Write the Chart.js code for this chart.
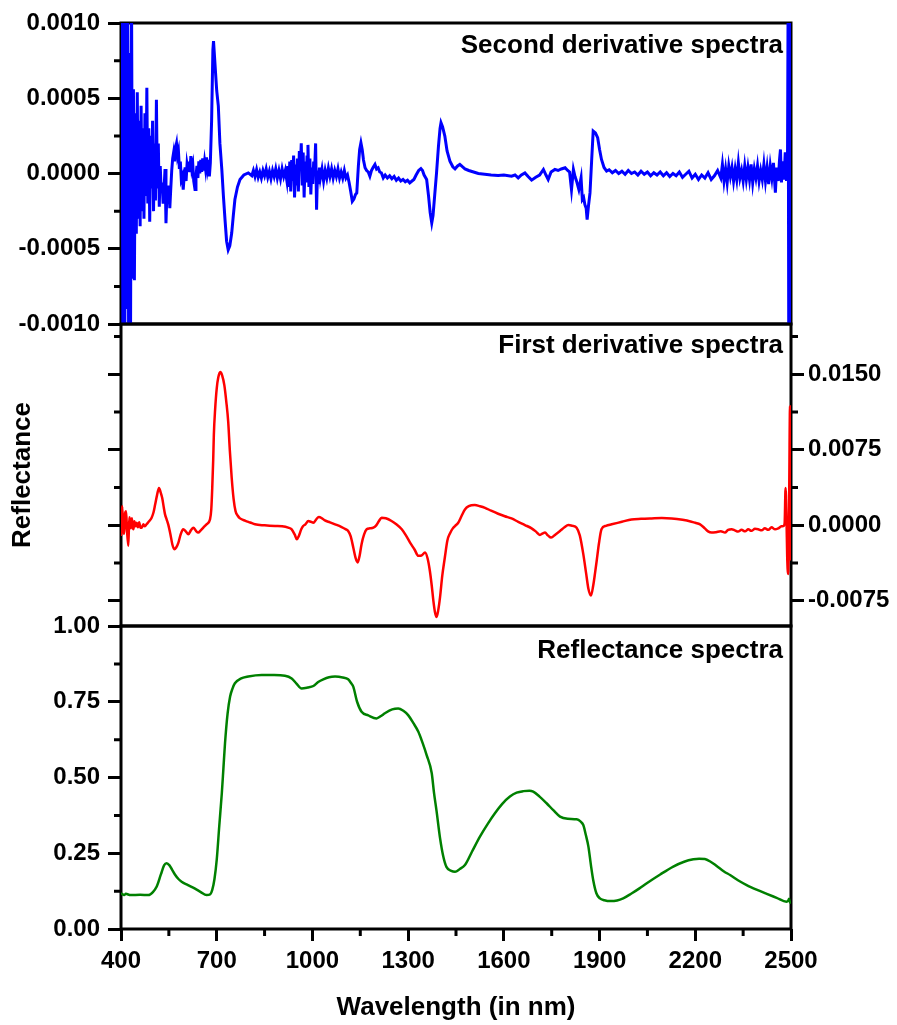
<!DOCTYPE html>
<html>
<head>
<meta charset="utf-8">
<title>Reflectance and derivative spectra</title>
<script src="https://cdn.jsdelivr.net/npm/chart.js@4.4.1/dist/chart.umd.min.js"></script>
<style>
  body { margin: 0; background: #fff; }
  #wrap { position: relative; width: 897px; height: 1025px; }
  #wrap canvas { position: absolute; left: 0; top: 0; }
</style>
</head>
<body>
<div id="wrap">
  <canvas id="secondChart" width="897" height="1025"></canvas>
  <canvas id="firstChart" width="897" height="1025"></canvas>
  <canvas id="reflChart" width="897" height="1025"></canvas>
</div>
<script>
// wavelength (nm) / value pairs

// second derivative (top, blue)
const secondWl = [
  400, 403, 406, 409, 412, 415, 418, 421, 424, 427, 430, 433, 436,
  439, 442, 445, 448, 451, 454, 457, 460, 463, 466, 469, 472, 475,
  478, 481, 484, 487, 490, 493, 496, 499, 502, 505, 508, 511, 514,
  517, 520, 523, 526, 529, 532, 535, 538, 541, 544, 547, 550, 553,
  556, 559, 562, 565, 568, 571, 574, 577, 580, 583, 586, 589, 592,
  595, 598, 601, 604, 607, 610, 613, 616, 619, 622, 625, 628, 632,
  635, 638, 641, 644, 647, 650, 653, 656, 659, 662, 665, 668, 671,
  674, 677, 680, 684, 688, 690, 693, 696, 700, 705, 710, 716, 721,
  726, 731, 736, 741, 747, 752, 757, 765, 773, 785, 799, 810, 815,
  820, 825, 830, 835, 840, 845, 850, 855, 860, 865, 870, 875, 880,
  885, 890, 895, 900, 905, 910, 915, 920, 923, 926, 929, 932, 935,
  938, 941, 944, 947, 950, 953, 956, 959, 962, 965, 968, 971, 974,
  977, 980, 983, 986, 989, 992, 995, 998, 1001, 1004, 1007, 1010, 1013,
  1016, 1019, 1022, 1025, 1030, 1035, 1040, 1045, 1050, 1055, 1060, 1065, 1070,
  1075, 1080, 1085, 1090, 1095, 1100, 1105, 1110, 1115, 1120, 1125, 1130, 1135,
  1139, 1144, 1148, 1152, 1156, 1160, 1165, 1170, 1175, 1180, 1185, 1190, 1196,
  1201, 1206, 1211, 1216, 1222, 1228, 1235, 1242, 1249, 1256, 1263, 1270, 1277,
  1284, 1291, 1298, 1305, 1312, 1318, 1325, 1333, 1340, 1345, 1350, 1358, 1364,
  1369, 1374, 1378, 1383, 1389, 1395, 1400, 1403, 1408, 1415, 1422, 1431, 1440,
  1447, 1455, 1462, 1470, 1478, 1490, 1505, 1520, 1540, 1560, 1582, 1600, 1624,
  1635, 1645, 1655, 1666, 1676, 1687, 1700, 1712, 1724, 1732, 1739, 1748, 1760,
  1770, 1780, 1792, 1800, 1806, 1812, 1818, 1823, 1828, 1835, 1842, 1846, 1850,
  1854, 1858, 1861, 1865, 1870, 1875, 1880, 1887, 1894, 1900, 1906, 1914, 1922,
  1930, 1940, 1950, 1960, 1970, 1980, 1990, 2000, 2010, 2020, 2030, 2040, 2050,
  2060, 2070, 2080, 2090, 2100, 2110, 2120, 2130, 2140, 2150, 2160, 2170, 2180,
  2190, 2200, 2210, 2220, 2230, 2240, 2250, 2260, 2270, 2280, 2285, 2290, 2295,
  2300, 2305, 2310, 2315, 2320, 2325, 2330, 2335, 2340, 2345, 2350, 2355, 2360,
  2365, 2370, 2375, 2380, 2385, 2390, 2395, 2400, 2405, 2410, 2415, 2420, 2425,
  2430, 2435, 2440, 2445, 2451, 2455, 2460, 2464, 2467, 2470, 2474, 2478, 2482,
  2486, 2489, 2491, 2493, 2495, 2497, 2499, 2500
];
const secondVals = [
  3e-4, 12e-4, -12e-4, 10e-4, -11e-4, 12e-4, -9e-4, 11e-4, -12e-4, 8e-4, -10e-4, 12e-4, -7e-4,
  5.6e-4, -7.1e-4, 4e-4, -4e-4, 5.4e-4, -3e-4, 3.5e-4, -3.5e-4, 4.5e-4, -2.5e-4, 3e-4, -3e-4, 4e-4,
  -1.5e-4, 5.7e-4, -2e-4, 3e-4, -3.2e-4, 2.5e-4, -1e-4, 3.5e-4, -2.5e-4, 2e-4, -1.8e-4, 4.9e-4, -1e-4,
  2e-4, -2.2e-4, 0.5e-4, -1.2e-4, -0.6e-4, -2e-4, -1e-4, 0.3e-4, -3.3e-4, -1.2e-4, -1.8e-4, -0.8e-4, -2.3e-4,
  -1e-4, 0.2e-4, 1e-4, 1.4e-4, 0.8e-4, 1.7e-4, 2e-4, 1.2e-4, 1.5e-4, 0.3e-4, 0.8e-4, -0.4e-4, -0.2e-4,
  -1.07e-4, -0.2e-4, 0.4e-4, -0.5e-4, 0.6e-4, 0.2e-4, 0.8e-4, 0.1e-4, 1.15e-4, 0.3e-4, 0.6e-4, -0.5e-4, -1.07e-4,
  -0.2e-4, 0.5e-4, -0.3e-4, 0.8e-4, 0, 0.9e-4, 0.1e-4, 1e-4, 0.2e-4, 0.8e-4, 0.3e-4, 1.07e-4, 0.4e-4,
  0.9e-4, -0.2e-4, 0.7e-4, 3.5e-4, 8.2e-4, 8.8e-4, 7.8e-4, 6.8e-4, 5.5e-4, 4.5e-4, 2e-4, 0.27e-4, -1.5e-4,
  -3.07e-4, -4.5e-4, -5.07e-4, -4.8e-4, -3.96e-4, -2.8e-4, -1.73e-4, -0.9e-4, -0.4e-4, -0.1e-4, 0.04e-4, -0.15e-4, 0.2e-4,
  -0.2e-4, 0.25e-4, -0.25e-4, 0.1e-4, -0.3e-4, 0.2e-4, -0.15e-4, 0.3e-4, -0.25e-4, 0.15e-4, -0.35e-4, 0.2e-4, -0.2e-4,
  0.3e-4, -0.3e-4, 0.2e-4, -0.35e-4, 0.3e-4, -0.2e-4, 0.2e-4, -0.5e-4, 0.5e-4, -0.9e-4, 0.8e-4, -1.2e-4, 0.9e-4,
  -0.5e-4, 1.2e-4, -1.6e-4, 0.6e-4, -0.8e-4, 1e-4, -1.2e-4, 1.5e-4, 0.3e-4, 2e-4, -0.8e-4, 1.4e-4, -1.6e-4,
  0.8e-4, -0.6e-4, 1.1e-4, 1.9e-4, -0.9e-4, 1e-4, -1.4e-4, 0.4e-4, -0.7e-4, 0.8e-4, 0.3e-4, 2e-4, -2.4e-4,
  0.2e-4, -0.7e-4, 0.4e-4, -0.3e-4, 0.3e-4, -0.5e-4, 0.2e-4, -0.3e-4, 0.35e-4, -0.2e-4, 0.3e-4, -0.3e-4, 0.2e-4,
  -0.2e-4, 0.3e-4, -0.3e-4, 0.1e-4, -0.3e-4, 0.2e-4, -0.3e-4, -0.1e-4, -0.6e-4, -1.2e-4, -1.85e-4, -1.7e-4, -1.4e-4,
  -1.29e-4, 0.5e-4, 1.6e-4, 2.04e-4, 1.6e-4, 0.9e-4, 0.38e-4, 0.2e-4, 0.1e-4, -0.18e-4, 0.2e-4, 0.4e-4, 0.6e-4,
  0.3e-4, 0.38e-4, 0.1e-4, 0.05e-4, -0.29e-4, -0.1e-4, -0.3e-4, -0.15e-4, -0.35e-4, -0.2e-4, -0.45e-4, -0.3e-4, -0.5e-4,
  -0.4e-4, -0.55e-4, -0.45e-4, -0.62e-4, -0.5e-4, -0.4e-4, -0.1e-4, 0.2e-4, 0.33e-4, 0.2e-4, -0.1e-4, -0.4e-4, -1.5e-4,
  -2.6e-4, -3.29e-4, -2.8e-4, -1.5e-4, 0.04e-4, 1.8e-4, 3e-4, 3.38e-4, 3.1e-4, 2.49e-4, 1.5e-4, 0.82e-4, 0.45e-4,
  0.31e-4, 0.5e-4, 0.6e-4, 0.45e-4, 0.31e-4, 0.2e-4, 0.1e-4, 0, -0.05e-4, -0.1e-4, -0.13e-4, -0.1e-4, -0.18e-4,
  -0.1e-4, -0.29e-4, -0.1e-4, 0.04e-4, -0.2e-4, -0.44e-4, -0.25e-4, -0.1e-4, 0.27e-4, -0.1e-4, -0.4e-4, 0.1e-4, 0.27e-4,
  0.2e-4, 0.3e-4, 0.38e-4, 0.2e-4, 0.1e-4, -1.07e-4, 0.27e-4, -0.2e-4, -0.51e-4, -1.07e-4, -0.29e-4, -1.73e-4, -1.6e-4,
  -2.07e-4, -2.3e-4, -3.07e-4, -2.2e-4, -1.29e-4, 0.8e-4, 2.82e-4, 2.7e-4, 2.38e-4, 1.6e-4, 0.93e-4, 0.4e-4, 0.16e-4,
  0.25e-4, 0.05e-4, 0.2e-4, 0, 0.15e-4, -0.05e-4, 0.2e-4, 0, 0.1e-4, -0.1e-4, 0.15e-4, -0.05e-4, 0.1e-4,
  -0.15e-4, 0.05e-4, -0.1e-4, 0.1e-4, -0.15e-4, 0.05e-4, -0.2e-4, 0, -0.15e-4, 0.1e-4, -0.25e-4, -0.05e-4, 0.15e-4,
  -0.3e-4, -0.05e-4, -0.4e-4, -0.1e-4, -0.3e-4, 0.05e-4, -0.4e-4, -0.15e-4, 0.2e-4, -0.3e-4, 0.6e-4, -0.5e-4, 0.3e-4,
  -0.6e-4, 0.5e-4, -0.2e-4, 0.4e-4, -0.5e-4, 0.3e-4, -0.4e-4, 0.7e-4, -0.3e-4, 0.2e-4, -0.5e-4, 0.5e-4, -0.4e-4,
  0.4e-4, -0.4e-4, 0.6e-4, -0.6e-4, 0.3e-4, -0.3e-4, 0.5e-4, -0.5e-4, 0.2e-4, -0.4e-4, 0.6e-4, -0.5e-4, 0.4e-4,
  -0.7e-4, 0.5e-4, -0.3e-4, 0.7e-4, -1.27e-4, 0.4e-4, -0.5e-4, 0.9e-4, 1.6e-4, -0.6e-4, 0.8e-4, -0.4e-4, 1.4e-4,
  -0.5e-4, 0.5e-4, 12e-4, -12e-4, 12e-4, -12e-4, 12e-4, -12e-4
];

// first derivative (middle, red)
const firstWl = [
  400, 404, 407, 410, 413, 416, 419, 423, 426, 428, 431, 434,
  437, 439, 442, 446, 449, 453, 457, 461, 465, 470, 475, 480,
  488, 496, 502, 507, 513, 519, 524, 529, 534, 538, 543, 548,
  555, 561, 567, 573, 580, 587, 595, 603, 611, 619, 627, 635,
  642, 650, 658, 668, 679, 683, 686, 689, 691, 695, 700, 705,
  711, 717, 724, 730, 736, 741, 747, 753, 759, 766, 773, 790,
  805, 820, 850, 883, 905, 924, 935, 945, 951, 958, 965, 971,
  978, 987, 995, 1003, 1012, 1020, 1030, 1039, 1055, 1071, 1090, 1105,
  1112, 1120, 1128, 1135, 1142, 1148, 1154, 1162, 1170, 1180, 1191, 1200,
  1208, 1217, 1230, 1248, 1265, 1280, 1293, 1306, 1320, 1332, 1342, 1353,
  1361, 1368, 1374, 1379, 1384, 1389, 1394, 1400, 1407, 1415, 1423, 1431,
  1440, 1447, 1457, 1467, 1478, 1490, 1509, 1525, 1541, 1560, 1582, 1603,
  1624, 1645, 1666, 1687, 1700, 1713, 1722, 1729, 1738, 1748, 1762, 1776,
  1790, 1802, 1815, 1828, 1838, 1849, 1858, 1865, 1873, 1880, 1886, 1891,
  1898, 1906, 1920, 1938, 1970, 2000, 2030, 2063, 2095, 2126, 2160, 2188,
  2200, 2215, 2230, 2240, 2251, 2265, 2280, 2293, 2303, 2314, 2324, 2334,
  2345, 2356, 2366, 2376, 2387, 2397, 2408, 2418, 2429, 2439, 2450, 2460,
  2470, 2476, 2480, 2483, 2486, 2488, 2491, 2494, 2497, 2500
];
const firstVals = [
  -0.00105, 0.0019, -0.0005, -0.00084, 0.0012, 0.00141, -0.0006, -0.00204, 0.0008, 0.00059, -0.0003, 0.0007,
  -0.0002, -0.00039, 0.0004, -0.0001, 0.00026, -0.0002, 0.0003, -0.00025, -0.00023, 0.0001, -0.0001, 0.0001,
  0.0004, 0.00076, 0.0013, 0.00207, 0.003, 0.00372, 0.0033, 0.00273, 0.0018, 0.00109, 0.0006, 0.0001,
  -0.0009, -0.0019, -0.00237, -0.0022, -0.00171, -0.0009, -0.00039, -0.0006, -0.00089, -0.0005, -0.00023, -0.00055,
  -0.00072, -0.0005, -0.00023, 0.0001, 0.00059, 0.0016, 0.00372, 0.0065, 0.00898, 0.0115, 0.01359, 0.0147,
  0.01523, 0.0149, 0.0139, 0.0123, 0.0103, 0.0075, 0.0047, 0.0026, 0.00141, 0.00095, 0.00069, 0.00045,
  0.00028, 0.0001, 0, -0.00007, -0.0001, -0.00023, -0.0004, -0.00095, -0.00138, -0.001, -0.0004, -0.00007,
  0.0001, 0.00043, 0.00035, 0.00026, 0.0006, 0.00082, 0.0007, 0.00049, 0.0003, 0.0001, -0.00015, -0.0004,
  -0.00056, -0.0011, -0.0022, -0.0032, -0.00368, -0.003, -0.00187, -0.0009, -0.00039, -0.0003, -0.00023, 0,
  0.0004, 0.00076, 0.0007, 0.00043, 0.00005, -0.00039, -0.001, -0.00171, -0.0024, -0.00303, -0.003, -0.0027,
  -0.0033, -0.00451, -0.006, -0.00747, -0.0086, -0.0091, -0.0085, -0.00714, -0.005, -0.0032, -0.0015, -0.0008,
  -0.0003, -0.00007, 0.00026, 0.0009, 0.00158, 0.0019, 0.00201, 0.0019, 0.00174, 0.00145, 0.00115, 0.0009,
  0.00069, 0.00035, 0.00003, -0.0003, -0.0006, -0.00095, -0.0008, -0.00072, -0.001, -0.00122, -0.0009, -0.00056,
  -0.0002, 0.00003, -0.00005, -0.00023, -0.001, -0.00286, -0.0048, -0.0063, -0.00697, -0.006, -0.0047, -0.00352,
  -0.0018, -0.00039, -0.00005, 0.0001, 0.00035, 0.00059, 0.00065, 0.00069, 0.00072, 0.00069, 0.00055, 0.00036,
  0.00025, 0.0001, -0.0003, -0.0006, -0.00072, -0.00068, -0.0006, -0.00072, -0.00045, -0.00039, -0.0005, -0.00062,
  -0.00045, -0.0006, -0.0004, -0.00055, -0.00035, -0.00039, -0.0005, -0.0003, -0.00045, -0.0002, -0.0004, -0.0003,
  -0.0001, -0.00007, 0.0002, 0.00372, 0.0005, -0.003, -0.00484, 0.002, 0.0118, -0.0035
];

// reflectance (bottom, green)
const reflWl = [
  400, 410, 415, 430, 460, 486, 500, 512, 525, 535,
  543, 552, 560, 569, 580, 590, 610, 632, 650, 668,
  680, 686, 693, 700, 708, 716, 721, 726, 734, 742,
  750, 757, 775, 799, 841, 880, 914, 935, 950, 966,
  985, 1003, 1018, 1034, 1052, 1071, 1095, 1112, 1122, 1128,
  1140, 1154, 1175, 1201, 1215, 1227, 1250, 1269, 1285, 1300,
  1316, 1332, 1345, 1358, 1374, 1381, 1389, 1400, 1410, 1420,
  1435, 1447, 1462, 1478, 1500, 1525, 1550, 1572, 1595, 1619,
  1640, 1661, 1680, 1692, 1712, 1734, 1755, 1776, 1800, 1828,
  1840, 1849, 1857, 1865, 1873, 1880, 1890, 1901, 1915, 1933,
  1955, 1974, 2000, 2025, 2048, 2090, 2131, 2165, 2194, 2212,
  2230, 2248, 2267, 2290, 2309, 2335, 2361, 2392, 2424, 2455,
  2486, 2491, 2494, 2497, 2500
];
const reflVals = [
  0.118, 0.112, 0.116, 0.112, 0.113, 0.112, 0.122, 0.140, 0.180, 0.210,
  0.217, 0.210, 0.196, 0.180, 0.165, 0.156, 0.145, 0.133, 0.122, 0.112,
  0.115, 0.129, 0.165, 0.228, 0.340, 0.448, 0.530, 0.613, 0.710, 0.767,
  0.795, 0.811, 0.826, 0.833, 0.838, 0.838, 0.836, 0.827, 0.810, 0.794,
  0.797, 0.802, 0.815, 0.824, 0.831, 0.833, 0.830, 0.824, 0.810, 0.800,
  0.750, 0.717, 0.705, 0.695, 0.703, 0.712, 0.725, 0.728, 0.720, 0.706,
  0.680, 0.651, 0.615, 0.574, 0.514, 0.450, 0.390, 0.300, 0.240, 0.205,
  0.192, 0.189, 0.198, 0.211, 0.255, 0.305, 0.348, 0.382, 0.413, 0.437,
  0.450, 0.455, 0.456, 0.453, 0.437, 0.415, 0.392, 0.371, 0.364, 0.362,
  0.355, 0.343, 0.310, 0.272, 0.210, 0.162, 0.118, 0.101, 0.095, 0.092,
  0.094, 0.101, 0.117, 0.134, 0.151, 0.180, 0.206, 0.222, 0.230, 0.232,
  0.231, 0.222, 0.208, 0.190, 0.178, 0.160, 0.145, 0.130, 0.116, 0.103,
  0.090, 0.093, 0.100, 0.087, 0.090
];

// axis ticks
const xTicks = [400, 700, 1000, 1300, 1600, 1900, 2200, 2500];
const xMinor = [550, 850, 1150, 1450, 1750, 2050, 2350];
const secondTicks = [-0.001, -0.0005, 0, 0.0005, 0.001];
const secondMinor = [-0.00075, -0.00025, 0.00025, 0.00075];
const firstTicks = [-0.0075, 0, 0.0075, 0.015];
const firstMinor = [-0.00375, 0.00375, 0.01125, 0.01875];
const reflTicks = [0, 0.25, 0.5, 0.75, 1];
const reflMinor = [0.125, 0.375, 0.625, 0.875];

const FONT = "'Liberation Sans', Arial, Helvetica, sans-serif";
Chart.defaults.font.family = FONT;
Chart.defaults.color = '#000';

function points(xs, ys) {
  return xs.map((x, i) => ({ x: x, y: ys[i] }));
}

// frame, short minor ticks and the panel caption
const panelPlugin = {
  id: 'panel',
  beforeDatasetsDraw(chart, args, opts) {
    const a = chart.chartArea;
    const ctx = chart.ctx;
    ctx.save();
    ctx.strokeStyle = '#000';
    ctx.lineWidth = 3;
    ctx.strokeRect(a.left, a.top, a.right - a.left, a.bottom - a.top);
    ctx.beginPath();
    const ys = chart.scales[opts.yScale];
    (opts.minorLeft || []).forEach(v => {
      const y = ys.getPixelForValue(v);
      ctx.moveTo(a.left - 7, y);
      ctx.lineTo(a.left, y);
    });
    (opts.minorRight || []).forEach(v => {
      const y = ys.getPixelForValue(v);
      ctx.moveTo(a.right, y);
      ctx.lineTo(a.right + 7, y);
    });
    (opts.minorBottom || []).forEach(v => {
      const x = chart.scales.x.getPixelForValue(v);
      ctx.moveTo(x, a.bottom);
      ctx.lineTo(x, a.bottom + 7);
    });
    ctx.stroke();
    ctx.restore();
  },
  afterDatasetsDraw(chart, args, opts) {
    const a = chart.chartArea;
    const ctx = chart.ctx;
    ctx.save();
    ctx.font = 'bold 26px ' + FONT;
    ctx.fillStyle = '#000';
    ctx.textAlign = 'right';
    ctx.textBaseline = 'alphabetic';
    ctx.fillText(opts.caption, a.right - 8, a.top + opts.captionDy);
    ctx.restore();
  }
};

function yTickOpts(values, digits, show) {
  return {
    display: show,
    font: { size: 24, weight: 'bold' },
    color: '#000',
    padding: show === false ? 0 : 8,
    callback: v => Number(v).toFixed(digits)
  };
}

const tickGrid = {
  display: true,
  drawOnChartArea: false,
  drawTicks: true,
  tickLength: 13,
  tickWidth: 3,
  tickColor: '#000',
  lineWidth: 3,
  color: '#000'
};

const hiddenX = { type: 'linear', min: 400, max: 2500, display: false };

// top panel
new Chart(document.getElementById('secondChart'), {
  type: 'line',
  data: {
    datasets: [{
      data: points(secondWl, secondVals),
      borderColor: '#0000ff',
      borderWidth: 3,
      pointRadius: 0
    }]
  },
  options: {
    responsive: false,
    animation: false,
    devicePixelRatio: 1,
    layout: { padding: { top: 23, bottom: 701, left: 0, right: 106 } },
    plugins: {
      legend: { display: false },
      tooltip: { enabled: false },
      panel: { yScale: 'y', minorLeft: secondMinor, caption: 'Second derivative spectra', captionDy: 30 }
    },
    scales: {
      x: hiddenX,
      y: {
        type: 'linear', min: -0.001, max: 0.001,
        afterBuildTicks: s => { s.ticks = secondTicks.map(v => ({ value: v })); },
        afterFit: s => { s.width = 121; },
        ticks: yTickOpts(secondTicks, 4, true),
        grid: tickGrid,
        border: { display: false }
      }
    }
  },
  plugins: [panelPlugin]
});

// middle panel
new Chart(document.getElementById('firstChart'), {
  type: 'line',
  data: {
    datasets: [{
      data: points(firstWl, firstVals),
      borderColor: '#ff0000',
      borderWidth: 2.5,
      pointRadius: 0,
      cubicInterpolationMode: 'monotone',
      yAxisID: 'yr'
    }]
  },
  options: {
    responsive: false,
    animation: false,
    devicePixelRatio: 1,
    layout: { padding: { top: 324, bottom: 399, left: 0, right: 0 } },
    plugins: {
      legend: { display: false },
      tooltip: { enabled: false },
      panel: { yScale: 'yr', minorLeft: firstMinor, minorRight: firstMinor, caption: 'First derivative spectra', captionDy: 29 }
    },
    scales: {
      x: hiddenX,
      y: {
        type: 'linear', position: 'left', min: -0.01, max: 0.02,
        afterBuildTicks: s => { s.ticks = firstTicks.map(v => ({ value: v })); },
        afterFit: s => { s.width = 121; },
        ticks: yTickOpts(firstTicks, 4, false),
        grid: tickGrid,
        border: { display: false },
        title: {
          display: true,
          text: 'Reflectance',
          font: { size: 26, weight: 'bold' },
          color: '#000',
          padding: { top: 7, bottom: 0 }
        }
      },
      yr: {
        type: 'linear', position: 'right', min: -0.01, max: 0.02,
        afterBuildTicks: s => { s.ticks = firstTicks.map(v => ({ value: v })); },
        afterFit: s => { s.width = 106; },
        ticks: Object.assign(yTickOpts(firstTicks, 4, true), { padding: 4 }),
        grid: tickGrid,
        border: { display: false }
      }
    }
  },
  plugins: [panelPlugin]
});

// bottom panel
new Chart(document.getElementById('reflChart'), {
  type: 'line',
  data: {
    datasets: [{
      data: points(reflWl, reflVals),
      borderColor: '#008000',
      borderWidth: 2.5,
      pointRadius: 0,
      cubicInterpolationMode: 'monotone'
    }]
  },
  options: {
    responsive: false,
    animation: false,
    devicePixelRatio: 1,
    layout: { padding: { top: 626, bottom: 0, left: 0, right: 106 } },
    plugins: {
      legend: { display: false },
      tooltip: { enabled: false },
      panel: { yScale: 'y', minorLeft: reflMinor, minorBottom: xMinor, caption: 'Reflectance spectra', captionDy: 32 }
    },
    scales: {
      x: {
        type: 'linear', min: 400, max: 2500,
        afterBuildTicks: s => { s.ticks = xTicks.map(v => ({ value: v })); },
        afterFit: s => { s.height = 96; },
        ticks: { font: { size: 24, weight: 'bold' }, color: '#000', padding: 6, maxRotation: 0, autoSkip: false, callback: v => String(v) },
        grid: Object.assign({}, tickGrid, { tickLength: 12 }),
        border: { display: false },
        title: {
          display: true,
          text: 'Wavelength (in nm)',
          font: { size: 26, weight: 'bold' },
          color: '#000',
          padding: { top: 0, bottom: 2 }
        }
      },
      y: {
        type: 'linear', min: 0, max: 1,
        afterBuildTicks: s => { s.ticks = reflTicks.map(v => ({ value: v })); },
        afterFit: s => { s.width = 121; },
        ticks: yTickOpts(reflTicks, 2, true),
        grid: tickGrid,
        border: { display: false }
      }
    }
  },
  plugins: [panelPlugin]
});
</script>
</body>
</html>
